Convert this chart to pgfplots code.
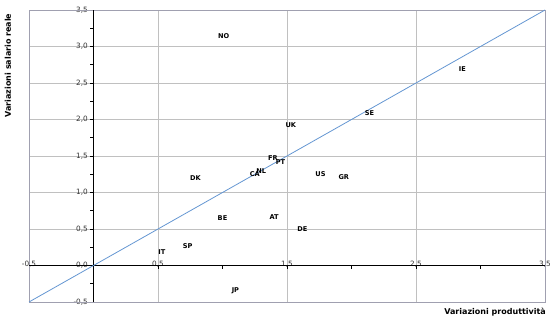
\documentclass[border=0pt]{standalone}
\usepackage{pgfplots}
\pgfplotsset{compat=1.18}
\usepackage{pgfplotstable}
\usepackage{fontspec}
\setmainfont{DejaVu Sans}
\definecolor{diag}{RGB}{100,150,210}
\definecolor{gridc}{RGB}{192,192,192}
\definecolor{framec}{RGB}{160,160,176}
\definecolor{tickc}{RGB}{50,50,50}
\pgfplotstableread{
x y lab
1.01 3.14 NO
2.86 2.69 IE
2.14 2.09 SE
1.53 1.92 UK
1.39 1.47 FR
1.45 1.42 PT
1.25 1.25 CA
1.30 1.29 NL
1.76 1.25 US
1.94 1.21 GR
0.79 1.20 DK
1.00 0.65 BE
1.40 0.66 AT
1.62 0.50 DE
0.73 0.26 SP
0.53 0.18 IT
1.10 -0.35 JP
}\labdata
\begin{document}
\begin{tikzpicture}
\path[use as bounding box] (0,0) rectangle (560bp,330bp);
\begin{axis}[
  at={(29bp,28bp)}, anchor=south west,
  scale only axis, width=516bp, height=292bp,
  xmin=-0.5, xmax=3.5, ymin=-0.5, ymax=3.5,
  axis lines=middle,
  axis line style={-, black, line width=1.3bp},
  hide obscured x ticks=false, hide obscured y ticks=false,
  xtick={-0.5,0.5,1.5,2.5,3.5},
  minor xtick={0,1,2,3},
  ytick={-0.5,0,0.5,1,1.5,2,2.5,3,3.5},
  minor ytick={-0.25,0.25,0.75,1.25,1.75,2.25,2.75,3.25},
  grid=major,
  major grid style={gridc, line width=0.9bp},
  tick align=outside,
  major tick length=3.5bp, minor tick length=3bp,
  tick style={black, line width=1bp},
  /pgf/number format/.cd, use comma, fixed, fixed zerofill, precision=1, assume math mode=true,
  /pgfplots/.cd,
  tick label style={font=\fontsize{7.3bp}{8bp}\selectfont, text=tickc},
  xticklabel style={anchor=south, inner sep=1bp},
  yticklabel style={anchor=east, inner sep=2bp},
  xlabel={Variazioni produttività},
  ylabel={Variazioni salario reale},
  every axis x label/.style={at={(rel axis cs:1.002,-0.02)}, anchor=north east, inner sep=0pt, font=\bfseries\fontsize{8bp}{9bp}\selectfont},
  every axis y label/.style={at={(rel axis cs:-0.0407,0.81)}, anchor=center, rotate=90, inner sep=0pt, font=\bfseries\fontsize{8bp}{9bp}\selectfont},
  clip=false,
]
\draw[framec, line width=0.9bp] (rel axis cs:0,0) rectangle (rel axis cs:1,1);
\draw[black, line width=1.3bp] (axis cs:-0.5,0) -- (axis cs:3.5,0);
\draw[black, line width=1.3bp] (axis cs:0,-0.5) -- (axis cs:0,3.5);
\addplot[diag, line width=0.8bp] coordinates {(-0.5,-0.5) (3.5,3.5)};
\addplot[draw=none, mark=none, nodes near coords, point meta=explicit symbolic,
  every node near coord/.style={anchor=center, inner sep=0pt, font=\bfseries\fontsize{6.6bp}{7bp}\selectfont, text=black}]
  table[x=x, y=y, meta=lab] {\labdata};
\end{axis}
\end{tikzpicture}
\end{document}
